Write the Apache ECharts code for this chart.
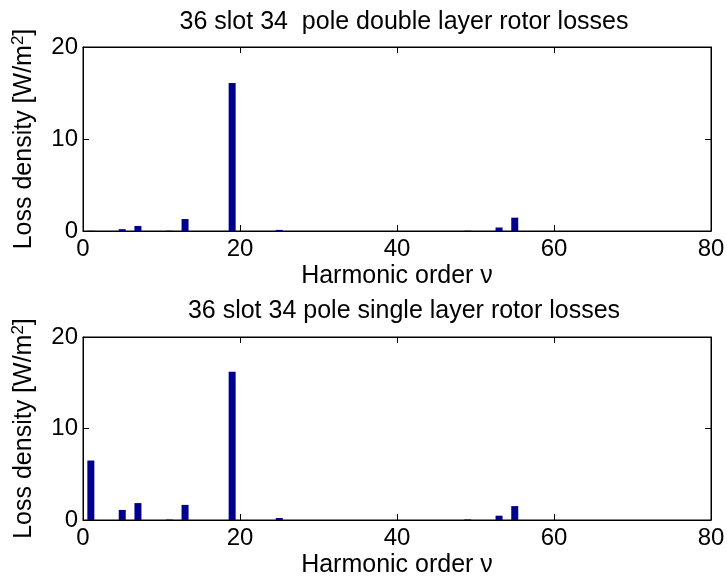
<!DOCTYPE html>
<html>
<head>
<meta charset="utf-8">
<script src="https://cdn.jsdelivr.net/npm/echarts@6/dist/echarts.min.js"></script>
<style>
  html, body { margin: 0; padding: 0; background: #fff; }
  #main { width: 727px; height: 577px; }
</style>
</head>
<body>
<div id="main"></div>
<script>
    var chart = echarts.init(document.getElementById('main'));

    // harmonic orders with a visible bar, and loss density per plot
    const harmonics = [1, 5, 7, 11, 13, 19, 25, 49, 53, 55];
    const doubleLayer = [0.03, 0.2, 0.55, 0.03, 1.3, 16.1, 0.12, 0.03, 0.38, 1.45];
    const singleLayer = [6.5, 1.1, 1.85, 0.05, 1.65, 16.2, 0.22, 0.06, 0.47, 1.52];
    const xTicks = [0, 20, 40, 60, 80];
    const yTicks = [0, 10, 20];
    const titles = ['36 slot 34  pole double layer rotor losses', '36 slot 34 pole single layer rotor losses'];

    const font = 'Liberation Sans, Arial, sans-serif';
    const barColor = '#00008f';

    function pairs(values) {
        return harmonics.map(function (h, i) { return [h, values[i]]; });
    }

    var grids = [
        {left: 83, right: 16, top: 47, height: 184, outerBoundsMode: 'none', show: true, borderColor: '#000', borderWidth: 1},
        {left: 83, right: 16, top: 337, height: 183, outerBoundsMode: 'none', show: true, borderColor: '#000', borderWidth: 1}
    ];

    var xAxes = [], yAxes = [], mirrors = [];
    grids.forEach(function (g, i) {
        xAxes.push({
            type: 'value', gridIndex: i, min: xTicks[0], max: xTicks[xTicks.length - 1], interval: 20,
            name: 'Harmonic order ν', nameLocation: 'middle', nameGap: 33, nameMoveOverlap: false,
            nameTextStyle: {color: '#000', fontSize: 25, fontFamily: font},
            axisLine: {show: true, onZero: false, lineStyle: {color: '#000'}},
            axisTick: {inside: true, length: 6, lineStyle: {color: '#000'}},
            axisLabel: {color: '#000', fontSize: 24, fontFamily: font, margin: 6},
            splitLine: {show: false}
        });
        xAxes.push({
            type: 'value', gridIndex: i, position: 'top', min: 0, max: 80, interval: 20,
            axisLine: {show: true, onZero: false, lineStyle: {color: '#000'}},
            axisTick: {show: true, inside: true, length: 6, lineStyle: {color: '#000'}},
            axisLabel: {show: false}, splitLine: {show: false}
        });
        yAxes.push({
            type: 'value', gridIndex: i, min: yTicks[0], max: yTicks[yTicks.length - 1], interval: 10,
            name: 'Loss density [W/m{sup|2}]', nameLocation: 'middle', nameGap: 44, nameRotate: 90, nameMoveOverlap: false,
            nameTextStyle: {
                color: '#000', fontSize: 25, fontFamily: font,
                rich: {sup: {fontSize: 17, fontFamily: font, color: '#000', verticalAlign: 'top', padding: [0, 0, 12, 0]}}
            },
            axisLine: {show: true, lineStyle: {color: '#000'}},
            axisTick: {inside: true, length: 6, lineStyle: {color: '#000'}},
            axisLabel: {color: '#000', fontSize: 24, fontFamily: font, margin: 5},
            splitLine: {show: false}
        });
        yAxes.push({
            type: 'value', gridIndex: i, position: 'right', min: 0, max: 20, interval: 10,
            axisLine: {show: true, onZero: false, lineStyle: {color: '#000'}},
            axisTick: {show: true, inside: true, length: 6, lineStyle: {color: '#000'}},
            axisLabel: {show: false}, splitLine: {show: false}
        });
        // empty series so the mirrored top/right axes get drawn
        mirrors.push({type: 'line', xAxisIndex: 2 * i + 1, yAxisIndex: 2 * i + 1, data: [], silent: true});
    });

    option = {
        backgroundColor: '#fff',
        animation: false,
        title: [
            {text: titles[0], left: 399, textAlign: 'center', top: 5,
                textStyle: {color: '#000', fontSize: 25, fontWeight: 'normal', fontFamily: font}},
            {text: titles[1], left: 399, textAlign: 'center', top: 294,
                textStyle: {color: '#000', fontSize: 25, fontWeight: 'normal', fontFamily: font}}
        ],
        grid: grids,
        xAxis: xAxes,
        yAxis: yAxes,
        series: [
            {
                type: 'bar', xAxisIndex: 0, yAxisIndex: 0, barWidth: 7,
                itemStyle: {color: barColor},
                data: pairs(doubleLayer)
            },
            {
                type: 'bar', xAxisIndex: 2, yAxisIndex: 2, barWidth: 7,
                itemStyle: {color: barColor},
                data: pairs(singleLayer)
            }
        ].concat(mirrors)
    };
    chart.setOption(option);

    window.onresize = function () {
        chart.resize();
    }
</script>
</body>
</html>
